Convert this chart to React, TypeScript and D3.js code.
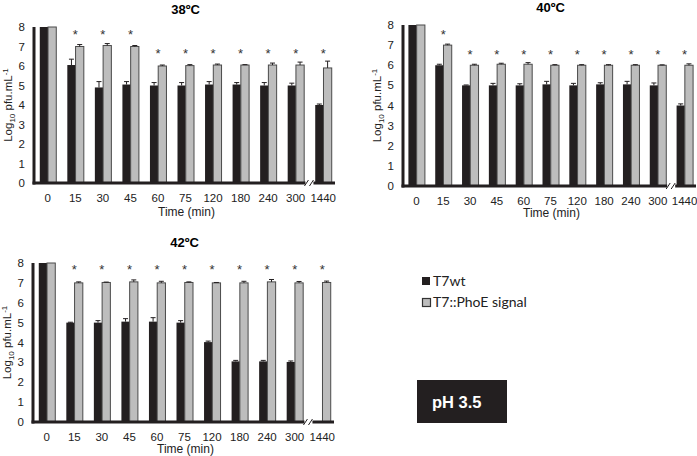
import * as d3 from 'd3';

const times = ['0', '15', '30', '45', '60', '75', '120', '180', '240', '300', '1440'];

// 38ºC
const wt38 = [8, 6.05, 4.9, 5.05, 5.0, 5.0, 5.05, 5.05, 5.0, 5.0, 4.0];
const wt38Err = [0, 0.3, 0.3, 0.15, 0.15, 0.15, 0.15, 0.1, 0.15, 0.12, 0.05];
const phoe38 = [8, 7.0, 7.05, 7.0, 6.0, 6.02, 6.05, 6.05, 6.05, 6.05, 5.9];
const phoe38Err = [0, 0.1, 0.1, 0.05, 0.05, 0.05, 0.05, 0.02, 0.1, 0.15, 0.35];
const star38 = [null, 7.7, 7.7, 7.7, 6.7, 6.7, 6.7, 6.7, 6.7, 6.7, 6.7];

// 40ºC
const wt40 = [8, 6.0, 5.0, 5.0, 5.0, 5.05, 5.0, 5.05, 5.05, 5.0, 4.0];
const wt40Err = [0, 0.05, 0.02, 0.1, 0.08, 0.15, 0.1, 0.08, 0.15, 0.12, 0.08];
const phoe40 = [8, 7.0, 6.0, 6.05, 6.05, 6.0, 6.0, 6.0, 6.0, 6.0, 6.0];
const phoe40Err = [0, 0.05, 0.05, 0.05, 0.08, 0.03, 0.03, 0.03, 0.03, 0.02, 0.07];
const star40 = [null, 7.6, 6.6, 6.6, 6.6, 6.6, 6.6, 6.6, 6.6, 6.6, 6.6];

// 42ºC
const wt42 = [8, 5.0, 5.0, 5.05, 5.05, 5.0, 4.02, 3.05, 3.05, 3.02, 0];
const wt42Err = [0, 0.02, 0.1, 0.15, 0.2, 0.1, 0.05, 0.05, 0.05, 0.05, 0];
const phoe42 = [8, 7.0, 7.02, 7.05, 7.0, 7.02, 7.0, 7.0, 7.05, 7.0, 7.02];
const phoe42Err = [0, 0.05, 0.02, 0.1, 0.08, 0.03, 0.02, 0.08, 0.12, 0.07, 0.07];
const star42 = [null, 7.75, 7.75, 7.75, 7.75, 7.75, 7.75, 7.75, 7.75, 7.75, 7.75];

const yTicks = [0, 1, 2, 3, 4, 5, 6, 7, 8];
const seriesNames = ['T7wt', 'T7::PhoE signal'];

const BLACK = '#231f20';
const GREY = '#bdbdbd';
const FONT = 'Liberation Sans, Arial, sans-serif';

interface PanelProps {
  title: string;
  wt: number[];
  wtErr: number[];
  phoe: number[];
  phoeErr: number[];
  stars: (number | null)[];
  left: number;
  right: number;
  top: number;
  bottom: number;
  titleY: number;
  labelGap: number;
}

function Panel(p: PanelProps) {
  const x = d3.scaleBand<string>().domain(times).range([p.left, p.right]).padding(0);
  const inner = d3.scaleBand<string>().domain(['wt', 'phoe']).range([-8, 8.5]).padding(0);
  const y = d3.scaleLinear().domain([0, 8]).range([p.bottom, p.top]);
  const bw = inner.bandwidth();
  const axisEnd = p.right - 2;
  const brk = ((x('300') as number) + (x('1440') as number)) / 2 + x.bandwidth() / 2 - 3;

  return (
    <g>
      <text x={(p.left + p.right) / 2} y={p.titleY} textAnchor="middle" fontSize={13} fontWeight="bold" fontFamily={FONT}>
        {p.title}
      </text>
      {yTicks.map((t) => (
        <text key={t} x={p.left - 9} y={y(t) + 4} textAnchor="end" fontSize={11.5} fontFamily={FONT} fill="#222">
          {t}
        </text>
      ))}
      <text
        transform={`translate(${p.left - 22},${(p.top + p.bottom) / 2}) rotate(-90)`}
        textAnchor="middle"
        fontSize={11.5}
        fontFamily={FONT}
        fill="#222"
      >
        Log<tspan fontSize={8} dy={3}>10</tspan>
        <tspan dy={-3}> pfu.mL</tspan>
        <tspan fontSize={8} dy={-4}>-1</tspan>
      </text>
      {times.map((t, i) => {
        const cx = (x(t) as number) + x.bandwidth() / 2;
        const wtV = p.wt[i];
        const phV = p.phoe[i];
        const wx = cx + (inner('wt') as number);
        const px = cx + (inner('phoe') as number);
        return (
          <g key={t}>
            {wtV > 0 && (
              <rect x={wx} y={y(wtV)} width={bw} height={y(0) - y(wtV)} fill={BLACK} />
            )}
            {wtV > 0 && p.wtErr[i] > 0 && (
              <g stroke={BLACK} strokeWidth={1}>
                <line x1={wx + bw / 2} x2={wx + bw / 2} y1={y(wtV)} y2={y(wtV + p.wtErr[i])} />
                <line x1={wx + bw / 2 - 2.5} x2={wx + bw / 2 + 2.5} y1={y(wtV + p.wtErr[i])} y2={y(wtV + p.wtErr[i])} />
              </g>
            )}
            <rect x={px} y={y(phV)} width={bw} height={y(0) - y(phV)} fill={GREY} stroke="#4a4a4a" strokeWidth={1} />
            {p.phoeErr[i] > 0 && (
              <g stroke={BLACK} strokeWidth={1}>
                <line x1={px + bw / 2} x2={px + bw / 2} y1={y(phV)} y2={y(phV + p.phoeErr[i])} />
                <line x1={px + bw / 2 - 2.5} x2={px + bw / 2 + 2.5} y1={y(phV + p.phoeErr[i])} y2={y(phV + p.phoeErr[i])} />
              </g>
            )}
            {p.stars[i] !== null && (
              <text x={cx} y={y(p.stars[i] as number) + 6} textAnchor="middle" fontSize={13} fontFamily={FONT} fill="#333">
                *
              </text>
            )}
            <text x={cx} y={p.bottom + 19} textAnchor="middle" fontSize={11.5} fontFamily={FONT} fill="#222">
              {t}
            </text>
          </g>
        );
      })}
      <line x1={p.left} x2={p.left} y1={p.top} y2={p.bottom + 1.5} stroke={BLACK} strokeWidth={3} />
      <line x1={p.left - 1.5} x2={axisEnd} y1={p.bottom} y2={p.bottom} stroke={BLACK} strokeWidth={3} />
      <rect x={brk - 1} y={p.bottom - 4} width={8} height={8} fill="white" />
      <line x1={brk - 2} x2={brk + 2} y1={p.bottom + 3} y2={p.bottom - 3} stroke={BLACK} strokeWidth={1} />
      <line x1={brk + 3} x2={brk + 7} y1={p.bottom + 3} y2={p.bottom - 3} stroke={BLACK} strokeWidth={1} />
      <text x={(p.left + p.right) / 2 + 1} y={p.bottom + p.labelGap} textAnchor="middle" fontSize={12} fontFamily={FONT} fill="#222">
        Time (min)
      </text>
    </g>
  );
}

export default function App() {
  return (
    <svg width={697} height={456} style={{ position: 'absolute', left: 0, top: 0, background: 'white' }}>
      <Panel title="38ºC" wt={wt38} wtErr={wt38Err} phoe={phoe38} phoeErr={phoe38Err} stars={star38}
        left={34} right={337} top={27} bottom={183} titleY={14} labelGap={33} />
      <Panel title="40ºC" wt={wt40} wtErr={wt40Err} phoe={phoe40} phoeErr={phoe40Err} stars={star40}
        left={403} right={698} top={25} bottom={186} titleY={12} labelGap={31} />
      <Panel title="42ºC" wt={wt42} wtErr={wt42Err} phoe={phoe42} phoeErr={phoe42Err} stars={star42}
        left={33} right={336} top={263} bottom={422} titleY={247} labelGap={31} />
      <g fontFamily="Lato, Open Sans, sans-serif" fontSize={14} fill="#222">
        <rect x={422} y={277} width={8} height={8} fill={BLACK} />
        <text x={433} y={286}>{seriesNames[0]}</text>
        <rect x={422.5} y={298.5} width={8} height={8} fill={GREY} stroke="#333" strokeWidth={1.2} />
        <text x={433} y={307}>{seriesNames[1]}</text>
      </g>
      <rect x={417} y={380} width={90} height={43} fill={BLACK} />
      <text x={432} y={408} fill="white" fontSize={16.5} fontWeight="bold" fontFamily={FONT}>
        pH 3.5
      </text>
    </svg>
  );
}
